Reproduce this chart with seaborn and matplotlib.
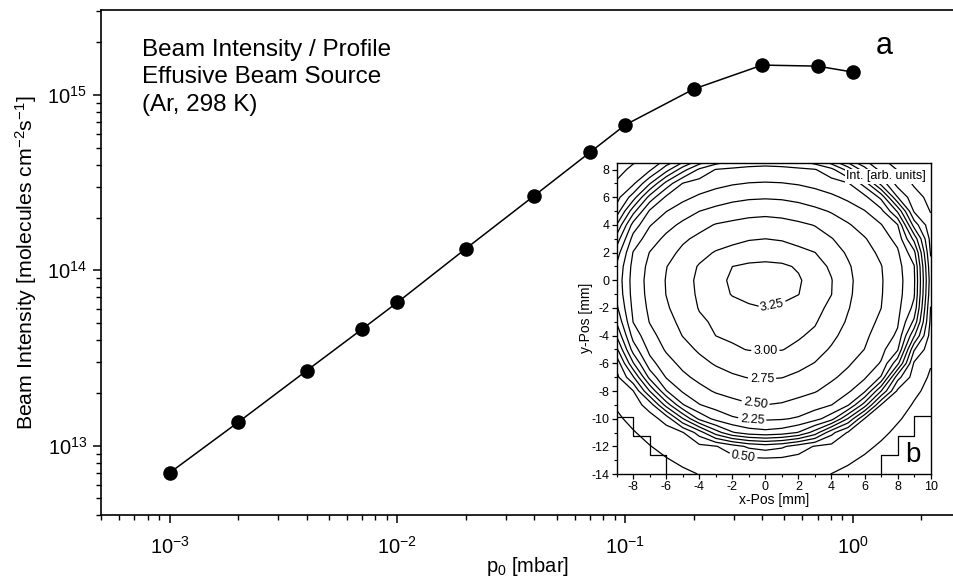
import numpy as np
import pandas as pd
import matplotlib
matplotlib.use("Agg")
import matplotlib.pyplot as plt
import seaborn as sns
from matplotlib.ticker import LogLocator, MultipleLocator, NullFormatter

# ---------------- data ----------------
pressure_mbar = [1e-3, 2e-3, 4e-3, 7e-3, 1e-2, 2e-2, 4e-2, 7e-2, 0.1, 0.2, 0.4, 0.7, 1.0]
beam_intensity = [7.0e12, 1.36e13, 2.68e13, 4.62e13, 6.56e13, 1.33e14, 2.67e14,
                  4.70e14, 6.74e14, 1.08e15, 1.48e15, 1.46e15, 1.35e15]

# contour levels of the beam profile (inset) and their extents [mm]
contour_levels = [3.25, 3.00, 2.75, 2.50, 2.25, 2.00, 1.75, 1.50, 1.25, 1.00, 0.75, 0.50, 0.25]
extent_left = [-2.6, -4.55, -6.1, -7.5, -8.4, -8.8, -9.1, -9.35, -9.6, -9.85, -10.1, -10.4, -11.5]
extent_right = [2.4, 4.1, 5.3, 7.2, 8.6, 9.1, 9.3, 9.45, 9.6, 9.75, 9.9, 10.1, 11.0]
extent_top = [1.56, 3.0, 4.8, 5.9, 7.1, 8.6, 9.0, 9.3, 9.6, 9.9, 10.2, 10.5, 11.5]
extent_bottom = [-2.0, -5.4, -7.2, -9.0, -10.2, -10.9, -11.25, -11.5, -11.7, -11.9, -12.1, -12.4, -15.0]
peak_intensity = 3.35

# boundary of the measured area (stepped corners)
mask_left_x = [-9, -8, -8, -7, -7, -6, -6]
mask_left_y = [-9.86, -9.86, -11.25, -11.25, -12.6, -12.6, -14]
mask_right_x = [10, 9, 9, 8, 8, 7, 7]
mask_right_y = [-9.8, -9.8, -11.25, -11.25, -12.6, -12.6, -14]

labelled_levels = [0.50, 2.25, 2.50, 2.75, 3.00, 3.25]
label_positions = [(-1.3, -12.5), (-0.8, -10.1), (-0.6, -8.9), (-0.2, -7.1), (0.0, -5.3), (0.4, -1.8)]

# ---------------- style ----------------
sns.set_theme(style="ticks")
plt.rcParams['font.family'] = ['Liberation Sans', 'DejaVu Sans']
plt.rcParams['mathtext.default'] = 'regular'
plt.rcParams['axes.linewidth'] = 1.2
plt.rcParams['axes.unicode_minus'] = False
for key in ['text.color', 'axes.labelcolor', 'xtick.color', 'ytick.color', 'axes.edgecolor']:
    plt.rcParams[key] = 'black'

fig = plt.figure(figsize=(9.54, 5.79), dpi=100)
ax = fig.add_axes([0.1059, 0.1097, 0.8941, 0.873])

df = pd.DataFrame({"p": pressure_mbar, "I": beam_intensity})
sns.lineplot(data=df, x="p", y="I", ax=ax, color="black", linewidth=1.1, sort=True)
sns.scatterplot(data=df, x="p", y="I", ax=ax, color="black", edgecolor="black",
                s=110, zorder=3, linewidth=0)
ax.set_xscale("log")
ax.set_yscale("log")
ax.set_xlim(5e-4, 2.78)
ax.set_ylim(4e12, 3.05e15)
ax.spines["right"].set_visible(False)
ax.xaxis.set_major_locator(LogLocator(base=10, numticks=10))
ax.xaxis.set_minor_locator(LogLocator(base=10, subs=np.arange(2, 10), numticks=20))
ax.yaxis.set_major_locator(LogLocator(base=10, numticks=10))
ax.yaxis.set_minor_locator(LogLocator(base=10, subs=np.arange(2, 10), numticks=20))
ax.xaxis.set_minor_formatter(NullFormatter())
ax.yaxis.set_minor_formatter(NullFormatter())
ax.tick_params(which="major", direction="out", length=6, width=1.1, labelsize=14.5)
ax.tick_params(which="minor", direction="out", length=3.5, width=1.0)
ax.tick_params(top=False, right=False, which="both")
ax.tick_params(axis="x", pad=8.5)
ax.tick_params(axis="y", pad=4)
ax.set_xlabel("p$_0$ [mbar]", fontsize=14.5, labelpad=-1.5)
ax.set_ylabel("Beam Intensity [molecules cm$^{-2}$s$^{-1}$]", fontsize=15.3, labelpad=6)

ax.text(0.048, 0.943, "Beam Intensity / Profile\nEffusive Beam Source\n(Ar, 298 K)",
        transform=ax.transAxes, fontsize=17.5, va="top", ha="left", linespacing=1.32)
ax.text(0.918, 0.928, "a", transform=ax.transAxes, fontsize=22, va="center", ha="center")

# ---------------- inset: beam profile ----------------
ax2 = fig.add_axes([0.6464, 0.1813, 0.3291, 0.5377])
xg = np.arange(-9.0, 10.01, 1.0)
yg = np.arange(-14.0, 9.01, 1.0)
X, Y = np.meshgrid(xg, yg)
levs = np.array(contour_levels)
L = np.array(extent_left); R = np.array(extent_right)
T = np.array(extent_top); B = np.array(extent_bottom)
Z = np.zeros_like(X)
for i in range(X.shape[0]):
    for j in range(X.shape[1]):
        x, y = X[i, j], Y[i, j]
        a = R if x >= 0 else -L
        b = T if y >= 0 else -B
        s = np.sqrt((x / a) ** 2 + (y / b) ** 2)
        if s[0] <= 1:
            Z[i, j] = peak_intensity - (peak_intensity - levs[0]) * s[0] ** 2
        elif s[-1] > 1:
            Z[i, j] = levs[-1] / s[-1] ** 6
        else:
            Z[i, j] = np.interp(1.0, s[::-1], levs[::-1])

other_levels = sorted(l for l in contour_levels if l not in labelled_levels)
ax2.contour(X, Y, Z, levels=other_levels, colors="black", linewidths=0.9)
cs_lab = ax2.contour(X, Y, Z, levels=sorted(labelled_levels), colors="black", linewidths=0.9)
ax2.clabel(cs_lab, fmt="%.2f", fontsize=9, inline=True,
           inline_spacing=2, manual=label_positions)
ax2.plot(mask_left_x, mask_left_y, color="black", lw=0.9)
ax2.plot(mask_right_x, mask_right_y, color="black", lw=0.9)
ax2.set_xlim(-9, 10)
ax2.set_ylim(-14, 8.5)
ax2.set_facecolor("white")
ax2.xaxis.set_major_locator(MultipleLocator(2))
ax2.xaxis.set_minor_locator(MultipleLocator(1))
ax2.yaxis.set_major_locator(MultipleLocator(2))
ax2.yaxis.set_minor_locator(MultipleLocator(1))
ax2.tick_params(which="major", direction="out", length=3.5, width=0.9, labelsize=9, pad=1.5)
ax2.tick_params(which="minor", direction="out", length=2, width=0.8)
for sp in ax2.spines.values():
    sp.set_linewidth(1.0)
ax2.set_xlabel("x-Pos [mm]", fontsize=10, labelpad=0)
ax2.set_ylabel("y-Pos [mm]", fontsize=10, labelpad=-1)
ax2.text(0.985, 0.975, "Int. [arb. units]", transform=ax2.transAxes, fontsize=9,
         ha="right", va="top", bbox=dict(facecolor="white", edgecolor="none", pad=1))
ax2.text(0.968, 0.04, "b", transform=ax2.transAxes, fontsize=20, ha="right", va="baseline")

fig.savefig("out.png", dpi=100)
